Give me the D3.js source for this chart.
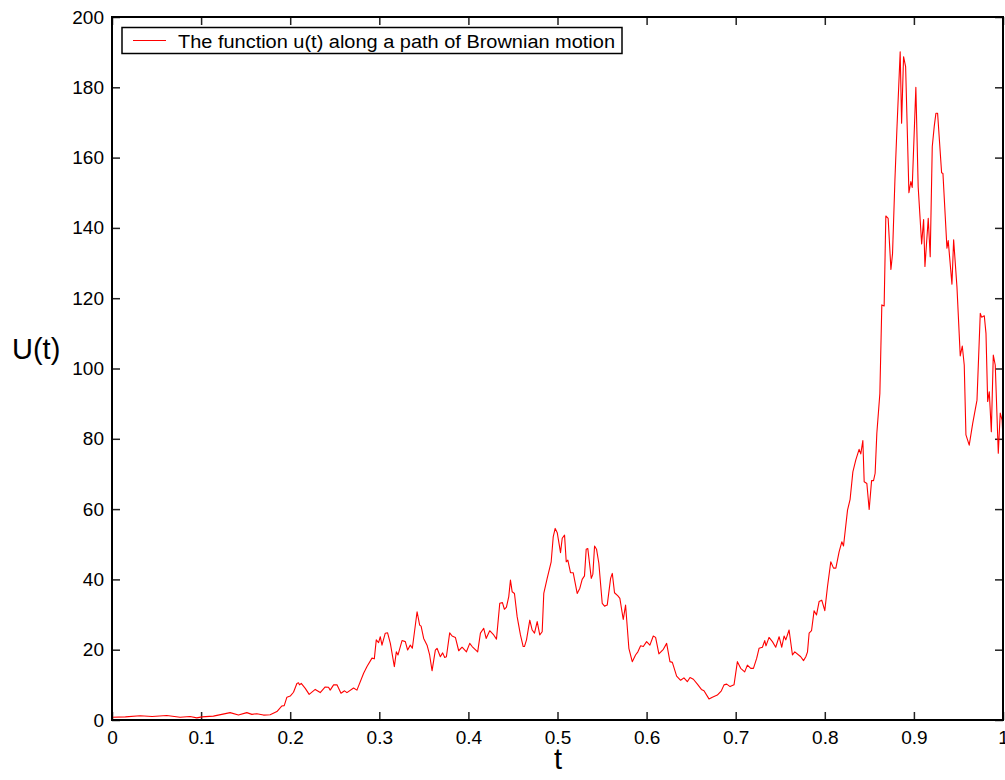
<!DOCTYPE html>
<html>
<head>
<meta charset="utf-8">
<script src="https://cdn.jsdelivr.net/npm/d3@7"></script>
<style>
  body { margin: 0; background: #fff; }
  text { font-family: "Liberation Sans", Arial, Helvetica, sans-serif; }
</style>
</head>
<body>
<div id="chart"></div>
<script>
// values
var tVals = [0.0000, 0.0150, 0.0315, 0.0450, 0.0615, 0.0764, 0.0876, 0.0952, 0.1008, 0.1138,
  0.1326, 0.1419, 0.1513, 0.1570, 0.1626, 0.1700, 0.1775, 0.1851, 0.1907, 0.1933,
  0.1963, 0.2000, 0.2037, 0.2075, 0.2093, 0.2104, 0.2124, 0.2169, 0.2213, 0.2281,
  0.2337, 0.2393, 0.2430, 0.2449, 0.2487, 0.2525, 0.2570, 0.2610, 0.2637, 0.2711,
  0.2749, 0.2824, 0.2862, 0.2918, 0.2944, 0.2966, 0.2992, 0.3011, 0.3030, 0.3067,
  0.3093, 0.3124, 0.3169, 0.3191, 0.3210, 0.3255, 0.3292, 0.3318, 0.3348, 0.3371,
  0.3424, 0.3453, 0.3469, 0.3498, 0.3536, 0.3565, 0.3592, 0.3629, 0.3648, 0.3685,
  0.3711, 0.3734, 0.3753, 0.3790, 0.3817, 0.3854, 0.3891, 0.3929, 0.3978, 0.4015,
  0.4042, 0.4104, 0.4135, 0.4172, 0.4199, 0.4239, 0.4284, 0.4315, 0.4352, 0.4382,
  0.4404, 0.4427, 0.4453, 0.4472, 0.4491, 0.4517, 0.4547, 0.4584, 0.4615, 0.4629,
  0.4652, 0.4689, 0.4716, 0.4742, 0.4772, 0.4801, 0.4828, 0.4846, 0.4884, 0.4929,
  0.4952, 0.4974, 0.4997, 0.5034, 0.5053, 0.5079, 0.5098, 0.5116, 0.5146, 0.5176,
  0.5221, 0.5251, 0.5277, 0.5303, 0.5322, 0.5340, 0.5379, 0.5397, 0.5416, 0.5438,
  0.5464, 0.5502, 0.5528, 0.5558, 0.5596, 0.5615, 0.5640, 0.5678, 0.5700, 0.5738,
  0.5764, 0.5801, 0.5839, 0.5876, 0.5902, 0.5933, 0.5963, 0.6000, 0.6037, 0.6075,
  0.6101, 0.6138, 0.6188, 0.6225, 0.6262, 0.6289, 0.6337, 0.6382, 0.6419, 0.6457,
  0.6487, 0.6525, 0.6570, 0.6615, 0.6644, 0.6700, 0.6738, 0.6794, 0.6839, 0.6869,
  0.6899, 0.6937, 0.6981, 0.7019, 0.7056, 0.7101, 0.7131, 0.7169, 0.7199, 0.7236,
  0.7262, 0.7300, 0.7326, 0.7340, 0.7374, 0.7412, 0.7449, 0.7487, 0.7517, 0.7543,
  0.7562, 0.7599, 0.7637, 0.7663, 0.7730, 0.7761, 0.7787, 0.7806, 0.7824, 0.7851,
  0.7880, 0.7907, 0.7936, 0.7966, 0.8000, 0.8030, 0.8067, 0.8098, 0.8124, 0.8161,
  0.8191, 0.8210, 0.8255, 0.8284, 0.8315, 0.8348, 0.8385, 0.8404, 0.8427, 0.8442,
  0.8472, 0.8498, 0.8525, 0.8547, 0.8565, 0.8584, 0.8618, 0.8640, 0.8666, 0.8685,
  0.8711, 0.8742, 0.8760, 0.8787, 0.8809, 0.8846, 0.8862, 0.8884, 0.8907, 0.8944,
  0.8966, 0.8981, 0.9022, 0.9048, 0.9087, 0.9109, 0.9124, 0.9161, 0.9183, 0.9206,
  0.9228, 0.9247, 0.9266, 0.9311, 0.9326, 0.9371, 0.9385, 0.9427, 0.9446, 0.9483,
  0.9520, 0.9543, 0.9565, 0.9584, 0.9621, 0.9660, 0.9708, 0.9745, 0.9760, 0.9790,
  0.9809, 0.9828, 0.9846, 0.9869, 0.9891, 0.9913, 0.9947, 0.9969, 0.9990, 1.0000];

var uVals = [0.8, 0.9, 1.2, 1.0, 1.3, 0.8, 1.0, 0.6, 0.9, 1.1,
  2.1, 1.4, 2.1, 1.6, 1.8, 1.4, 1.5, 2.4, 4.0, 4.1,
  6.5, 6.8, 7.9, 10.4, 10.6, 10.0, 10.4, 9.0, 7.3, 8.7,
  7.8, 9.4, 9.3, 8.5, 10.0, 10.0, 7.6, 8.3, 7.8, 9.1,
  8.5, 13.3, 15.2, 17.6, 17.4, 22.8, 22.0, 23.7, 21.3, 24.7,
  24.8, 21.8, 15.2, 19.4, 18.5, 22.6, 22.3, 19.9, 21.3, 20.4,
  30.8, 27.0, 26.7, 23.2, 21.3, 18.5, 14.0, 19.9, 20.4, 18.0,
  19.1, 17.8, 18.0, 24.8, 23.9, 23.5, 19.7, 20.7, 19.4, 21.8,
  20.9, 19.4, 24.7, 26.1, 23.2, 25.4, 24.2, 23.0, 33.2, 33.4,
  31.5, 32.1, 35.1, 39.8, 36.5, 36.0, 29.4, 24.2, 20.9, 20.9,
  22.8, 28.4, 25.6, 24.7, 28.0, 24.2, 25.1, 36.0, 40.3, 45.0,
  52.1, 54.5, 53.3, 47.6, 51.7, 52.6, 45.0, 45.5, 41.9, 41.9,
  36.0, 37.5, 40.0, 41.0, 48.6, 48.8, 40.3, 41.5, 49.5, 48.6,
  44.6, 33.2, 32.4, 32.7, 40.3, 41.7, 36.2, 35.3, 34.6, 28.6,
  32.7, 20.4, 16.6, 18.5, 19.4, 21.1, 20.9, 22.3, 21.3, 23.9,
  23.5, 18.8, 20.1, 21.8, 16.6, 16.4, 12.5, 11.3, 12.0, 10.9,
  12.1, 11.6, 10.2, 8.7, 8.3, 6.0, 6.5, 7.1, 8.3, 10.0,
  10.2, 9.5, 10.0, 16.6, 14.7, 13.7, 15.6, 14.7, 14.7, 17.6,
  20.4, 20.7, 22.6, 21.1, 23.5, 22.3, 20.7, 23.7, 20.7, 23.9,
  22.8, 25.6, 18.5, 19.4, 18.0, 16.9, 18.0, 19.4, 24.7, 25.4,
  31.1, 29.9, 33.7, 34.1, 31.1, 37.9, 45.0, 43.2, 43.2, 47.9,
  50.7, 49.5, 59.7, 62.8, 70.6, 74.0, 77.0, 75.7, 79.5, 67.8,
  67.3, 59.9, 68.1, 68.1, 70.2, 81.6, 92.9, 118.1, 117.8, 143.4,
  142.7, 128.2, 132.6, 153.6, 167.9, 190.1, 169.8, 188.7, 185.9, 150.0,
  153.2, 151.5, 180.0, 151.7, 135.4, 142.4, 129.0, 142.7, 131.8, 163.1,
  168.8, 172.6, 172.6, 155.7, 155.5, 134.2, 136.4, 124.0, 136.6, 123.3,
  103.6, 106.4, 101.0, 81.1, 78.2, 84.4, 91.0, 115.7, 114.6, 115.0,
  110.0, 90.6, 93.4, 82.0, 103.8, 101.0, 75.9, 87.3, 85.3, 80.0];

var xTicks = [0, 0.1, 0.2, 0.3, 0.4, 0.5, 0.6, 0.7, 0.8, 0.9, 1];
var yTicks = [0, 20, 40, 60, 80, 100, 120, 140, 160, 180, 200];
var legendLabel = "The function u(t) along a path of Brownian motion";

var width = 1005, height = 780;
var mLeft = 112, mRight = 1003, mTop = 17, mBottom = 720;

var svg = d3.select("#chart").append("svg")
    .attr("width", width)
    .attr("height", height);

var x = d3.scaleLinear().domain([0, 1]).range([mLeft, mRight]);
var y = d3.scaleLinear().domain([0, 200]).range([mBottom, mTop]);

var fmtX = function(d){ return d === 0 || d === 1 ? String(d) : d3.format(".1f")(d); };

function styleAxis(g){
	g.attr("font-size", 19).attr("font-family", "'Liberation Sans', Arial, sans-serif");
	g.select(".domain").remove();
	g.selectAll(".tick line").attr("stroke", "#222").attr("stroke-width", 1.5);
	g.selectAll(".tick text").attr("fill", "#000");
}

svg.append("g")
	.attr("transform", "translate(0," + mBottom + ")")
	.call(d3.axisBottom(x).tickValues(xTicks).tickFormat(fmtX).tickSize(-8).tickSizeOuter(0).tickPadding(11))
	.call(styleAxis);

svg.append("g")
	.attr("transform", "translate(0," + mTop + ")")
	.call(d3.axisTop(x).tickValues(xTicks).tickFormat("").tickSize(-8).tickSizeOuter(0))
	.call(styleAxis);

svg.append("g")
	.attr("transform", "translate(" + mLeft + ",0)")
	.call(d3.axisLeft(y).tickValues(yTicks).tickSize(-8).tickSizeOuter(0).tickPadding(8))
	.call(styleAxis);

svg.append("g")
	.attr("transform", "translate(" + mRight + ",0)")
	.call(d3.axisRight(y).tickValues(yTicks).tickFormat("").tickSize(-8).tickSizeOuter(0))
	.call(styleAxis);

// the curve
var pts = tVals.map(function(t, i){ return [t, uVals[i]]; });
var line = d3.line().x(function(d){ return x(d[0]); }).y(function(d){ return y(d[1]); });

svg.append("path")
	.datum(pts)
	.attr("d", line)
	.attr("fill", "none")
	.attr("stroke", "#ff0000")
	.attr("stroke-width", 1.1)
	.attr("stroke-linejoin", "round");

// frame
svg.append("rect")
	.attr("x", mLeft).attr("y", mTop)
	.attr("width", mRight - mLeft).attr("height", mBottom - mTop)
	.attr("fill", "none")
	.attr("stroke", "#000")
	.attr("stroke-width", 2);

// legend
var lg = svg.append("g");
lg.append("rect")
	.attr("x", 122).attr("y", 27.5)
	.attr("width", 500).attr("height", 26)
	.attr("fill", "#fff")
	.attr("stroke", "#000")
	.attr("stroke-width", 1.5);
lg.append("line")
	.attr("x1", 133).attr("x2", 166)
	.attr("y1", 40.5).attr("y2", 40.5)
	.attr("stroke", "#ff0000")
	.attr("stroke-width", 1);
lg.append("text")
	.attr("x", 178).attr("y", 47.5)
	.attr("textLength", 437)
	.attr("lengthAdjust", "spacingAndGlyphs")
	.style("font-size", "18px")
	.text(legendLabel);

// axis titles
svg.append("text")
	.attr("x", 12).attr("y", 359)
	.style("font-size", "29px")
	.text("U(t)");

svg.append("text")
	.attr("x", 558).attr("y", 769)
	.attr("text-anchor", "middle")
	.style("font-size", "29px")
	.text("t");
</script>
</body>
</html>
